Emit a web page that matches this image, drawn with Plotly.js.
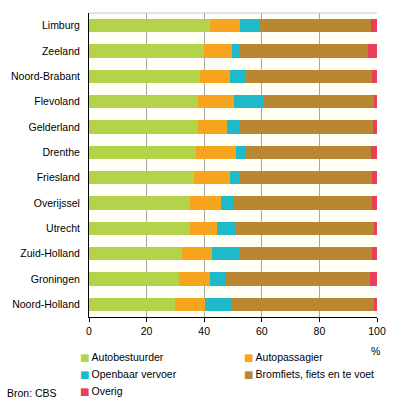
<!DOCTYPE html>
<html>
<head>
<meta charset="utf-8">
<script src="https://cdn.plot.ly/plotly-3.0.1.min.js"></script>
<style>html,body{margin:0;padding:0;background:#fff;}#chart{width:396px;height:404px;}</style>
</head>
<body>
<div id="chart"></div>
<script>
const provinces = ["Limburg","Zeeland","Noord-Brabant","Flevoland","Gelderland","Drenthe","Friesland","Overijssel","Utrecht","Zuid-Holland","Groningen","Noord-Holland"];
const seriesNames = ["Autobestuurder","Autopassagier","Openbaar vervoer","Bromfiets, fiets en te voet","Overig"];
const seriesColors = ["#b2d34a","#f7a51f","#1fbac9","#b98632","#e8405a"];
const autobestuurder = [41.9,39.8,38.4,37.7,37.7,37.0,36.3,35.0,35.0,32.2,31.1,29.7];
const autopassagier  = [10.4, 9.7,10.4,12.5,10.1,13.9,12.5,10.7, 9.3,10.4,10.8,10.5];
const openbaarVervoer= [ 7.0, 2.8, 5.5,10.2, 4.5, 3.3, 3.5, 4.5, 6.6, 9.7, 5.6, 9.3];
const bromfietsFiets = [38.5,44.7,43.8,38.4,46.2,43.6,46.1,47.9,47.9,46.1,50.0,49.3];
const overig         = [ 2.2, 3.0, 1.9, 1.2, 1.5, 2.2, 1.6, 1.9, 1.2, 1.6, 2.5, 1.2];
const xTicks = [0,20,40,60,80,100];
const seriesValues = [autobestuurder, autopassagier, openbaarVervoer, bromfietsFiets, overig];

const FONT = "Liberation Sans, Arial, sans-serif";
const W = 396, H = 404, L = 89, R = 19, T = 13, B = 87;
const pw = W - L - R, ph = H - T - B;
const px = x => (x - L) / pw;
const py = y => (H - B - y) / ph;

const traces = seriesNames.map((name, i) => ({
  type: "bar", orientation: "h", name: name,
  x: seriesValues[i], y: provinces,
  marker: {color: seriesColors[i], line: {width: 0}},
  hoverinfo: "skip", showlegend: false
}));

const annotations = [];
const legPos = [[79,357],[243,357],[79,374],[243,374],[79,391]];
seriesNames.forEach((n, i) => {
  annotations.push({
    xref: "paper", yref: "paper", x: px(legPos[i][0]-1), y: py(legPos[i][1]),
    xanchor: "left", yanchor: "middle", showarrow: false,
    text: '<span style="color:' + seriesColors[i] + '; font-family:DejaVu Sans; font-size:10px">■</span>\u2009' + n,
    font: {family: FONT, size: 10.5, color: "#000"}
  });
});
annotations.push({xref:"paper", yref:"paper", x:px(375), y:py(351), xanchor:"center", yanchor:"middle",
  showarrow:false, text:"%", font:{family:FONT, size:10.5, color:"#000"}});
annotations.push({xref:"paper", yref:"paper", x:px(5), y:py(393), xanchor:"left", yanchor:"middle",
  showarrow:false, text:"Bron: CBS", font:{family:FONT, size:10.5, color:"#000"}});

const layout = {
  width: W, height: H,
  margin: {l: L, r: R, t: T, b: B, pad: 0},
  paper_bgcolor: "#ffffff", plot_bgcolor: "#fffff6",
  barmode: "stack", bargap: 0.47,
  font: {family: FONT, size: 10.5, color: "#000"},
  showlegend: false,
  xaxis: {
    range: [0, 100], tickvals: xTicks, ticktext: xTicks.map(String),
    showgrid: true, gridcolor: "#a6a6a6", gridwidth: 1,
    zeroline: false, showline: true, linecolor: "#000", linewidth: 1,
    ticks: "outside", ticklen: 4, tickcolor: "#000",
    tickfont: {family: FONT, size: 10.5, color: "#000"}, fixedrange: true
  },
  yaxis: {
    type: "category", autorange: "reversed",
    showgrid: false, zeroline: false, showline: true, linecolor: "#000", linewidth: 1,
    ticks: "outside", ticklen: 6, tickcolor: "rgba(0,0,0,0)",
    tickfont: {family: FONT, size: 10.5, color: "#000"}, fixedrange: true
  },
  shapes: [{type: "line", xref: "paper", yref: "paper", x0: 0, x1: 1, y0: 1, y1: 1,
            line: {color: "#c8c8c8", width: 1}}],
  annotations: annotations
};

Plotly.newPlot("chart", traces, layout, {staticPlot: true, displayModeBar: false});
</script>
</body>
</html>
